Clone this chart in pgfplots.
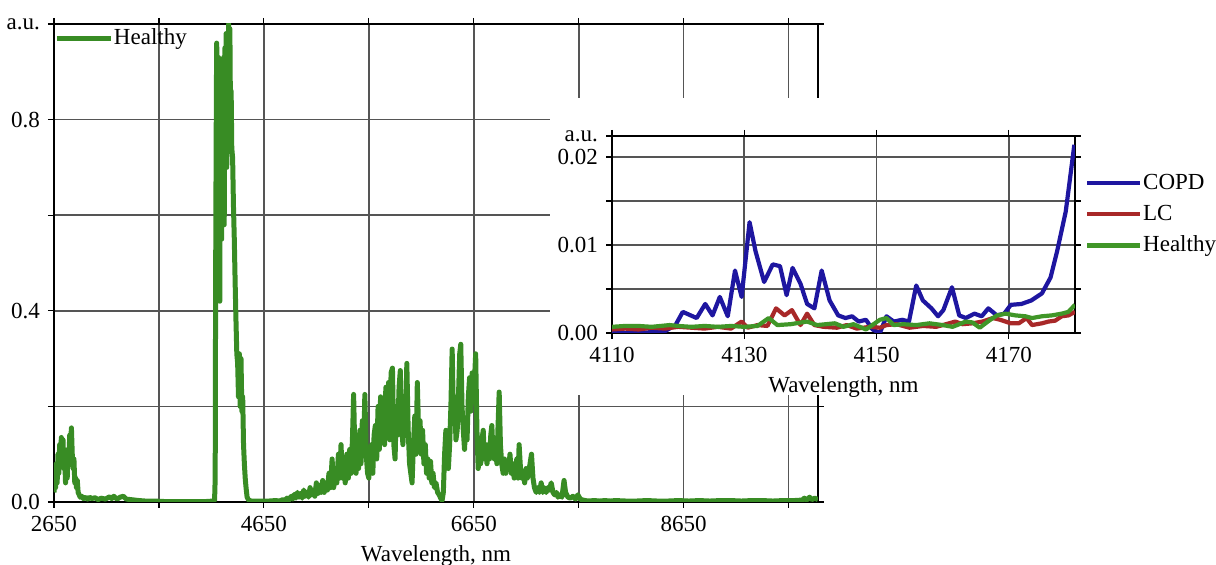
\documentclass[border=0pt]{standalone}
\usepackage{fontspec}
\setmainfont{Liberation Serif}
\usepackage{pgfplots}
\pgfplotsset{compat=1.18}

\definecolor{healthy}{RGB}{56,140,36}
\definecolor{healthyin}{RGB}{64,150,40}
\definecolor{copd}{RGB}{30,22,160}
\definecolor{lc}{RGB}{168,40,40}
\definecolor{gridgray}{RGB}{85,85,85}

\pgfplotsset{
  specstyle/.style={
    scale only axis,
    grid=major,
    grid style={gridgray, line width=0.8pt},
    tick align=outside,
    major tick length=3pt,
    tick style={black, line width=0.6pt},
    axis line style={black, line width=0.6pt},
    scaled x ticks=false, scaled y ticks=false,
    legend cell align=left,
  },
}

\begin{document}
\fontsize{11.5}{13.5}\selectfont
\begin{tikzpicture}
\path[use as bounding box] (-27pt,-31.5pt) rectangle (581pt,251pt);

% full spectrum
\begin{axis}[
  specstyle,
  at={(0,0)}, anchor=south west,
  width=382pt, height=239pt,
  xmin=2650, xmax=9930, ymin=0, ymax=1,
  xtick={2650,3650,4650,5650,6650,7650,8650,9650},
  xticklabels={2650,,4650,,6650,,8650,},
  ytick={0,0.2,0.4,0.6,0.8,1},
  yticklabels={0.0,,0.4,,0.8,a.u.},
  xlabel={Wavelength, nm},
  xlabel style={yshift=1pt},
  legend style={at={(0,1)}, anchor=north west, yshift=-2pt, draw=none, fill=none,
    inner sep=0pt, nodes={inner sep=0.3pt}},
  legend image code/.code={\draw[#1] (0pt,0pt) -- (27pt,0pt);},
]
\addplot[color=healthy, line width=2.5pt, line join=round] coordinates {
(2650,0.02)(2658,0.05)(2665,0.03)(2672,0.08)(2680,0.04)(2688,0.10)(2696,0.06)(2704,0.12)
(2712,0.09)(2720,0.135)(2728,0.10)(2736,0.13)(2744,0.07)(2752,0.09)(2760,0.04)(2768,0.08)
(2776,0.05)(2784,0.11)(2792,0.09)(2800,0.14)(2808,0.12)(2816,0.155)(2824,0.10)(2832,0.07)
(2840,0.09)(2848,0.04)(2856,0.05)(2864,0.03)(2872,0.045)(2880,0.02)(2890,0.015)(2900,0.01)
(2915,0.012)(2930,0.007)(2950,0.01)(2970,0.006)(2990,0.01)(3010,0.007)(3040,0.009)(3070,0.005)
(3100,0.008)(3140,0.006)(3180,0.011)(3200,0.007)(3220,0.012)(3250,0.006)(3280,0.01)(3310,0.012)
(3340,0.006)(3380,0.005)(3420,0.004)(3460,0.003)(3520,0.002)(3600,0.002)(3700,0.001)(3800,0.001)
(3900,0.001)(4000,0.001)(4100,0.001)(4170,0.002)(4180,0.003)(4186,0.05)(4190,0.45)(4195,0.75)
(4200,0.96)(4206,0.90)(4212,0.45)(4218,0.93)(4224,0.82)(4230,0.42)(4236,0.88)(4242,0.90)
(4248,0.55)(4254,0.89)(4260,0.65)(4266,0.93)(4272,0.58)(4278,0.95)(4284,0.72)(4290,0.98)
(4296,0.70)(4302,0.96)(4308,0.78)(4314,1.0)(4320,0.85)(4326,0.99)(4332,0.80)(4338,0.86)
(4344,0.74)(4352,0.72)(4360,0.62)(4368,0.55)(4376,0.46)(4384,0.38)(4392,0.31)(4400,0.29)
(4408,0.22)(4416,0.31)(4424,0.20)(4432,0.30)(4440,0.19)(4448,0.22)(4456,0.12)(4464,0.08)
(4472,0.05)(4480,0.03)(4490,0.01)(4505,0.004)(4530,0.002)(4600,0.002)(4700,0.002)(4760,0.003)
(4800,0.002)(4830,0.005)(4850,0.003)(4870,0.008)(4890,0.004)(4910,0.012)(4925,0.006)(4940,0.016)
(4955,0.008)(4970,0.02)(4985,0.01)(5000,0.018)(5015,0.008)(5030,0.025)(5045,0.012)(5060,0.02)
(5075,0.01)(5090,0.03)(5105,0.015)(5120,0.025)(5135,0.012)(5150,0.04)(5165,0.018)(5180,0.035)
(5195,0.02)(5210,0.045)(5225,0.02)(5240,0.04)(5255,0.025)(5270,0.06)(5285,0.03)(5300,0.09)
(5315,0.03)(5330,0.06)(5345,0.04)(5360,0.10)(5372,0.05)(5385,0.12)(5398,0.05)(5410,0.09)
(5425,0.04)(5440,0.10)(5455,0.05)(5468,0.11)(5482,0.06)(5495,0.14)(5505,0.225)(5515,0.12)
(5528,0.06)(5540,0.14)(5552,0.07)(5565,0.15)(5575,0.08)(5588,0.17)(5600,0.10)(5612,0.225)
(5625,0.10)(5638,0.06)(5650,0.05)(5662,0.09)(5675,0.12)(5688,0.06)(5700,0.14)(5712,0.16)
(5725,0.09)(5738,0.20)(5750,0.11)(5762,0.22)(5775,0.13)(5788,0.21)(5800,0.12)(5812,0.24)
(5825,0.15)(5838,0.25)(5850,0.13)(5862,0.27)(5875,0.28)(5888,0.12)(5900,0.09)(5912,0.20)
(5925,0.14)(5938,0.24)(5950,0.275)(5962,0.16)(5975,0.12)(5988,0.22)(6000,0.15)(6012,0.29)
(6025,0.15)(6038,0.08)(6050,0.06)(6062,0.04)(6075,0.12)(6088,0.18)(6100,0.10)(6112,0.25)
(6125,0.14)(6138,0.17)(6150,0.10)(6162,0.15)(6175,0.08)(6188,0.12)(6200,0.06)(6212,0.09)
(6225,0.05)(6238,0.085)(6250,0.04)(6262,0.06)(6275,0.03)(6290,0.04)(6305,0.02)(6320,0.015)
(6335,0.008)(6348,0.003)(6360,0.02)(6372,0.10)(6384,0.15)(6396,0.09)(6408,0.07)(6420,0.12)
(6432,0.20)(6444,0.32)(6456,0.18)(6468,0.22)(6480,0.13)(6492,0.15)(6504,0.22)(6516,0.31)
(6526,0.33)(6538,0.20)(6550,0.15)(6562,0.11)(6574,0.17)(6586,0.13)(6598,0.22)(6610,0.26)
(6622,0.19)(6634,0.27)(6646,0.22)(6658,0.26)(6668,0.31)(6680,0.15)(6692,0.07)(6704,0.10)
(6716,0.08)(6728,0.13)(6740,0.15)(6752,0.09)(6764,0.12)(6776,0.08)(6788,0.12)(6800,0.09)
(6812,0.14)(6822,0.16)(6834,0.10)(6846,0.09)(6858,0.12)(6870,0.08)(6880,0.15)(6892,0.23)
(6904,0.12)(6916,0.08)(6930,0.06)(6942,0.09)(6955,0.06)(6968,0.08)(6982,0.07)(6995,0.10)
(7008,0.06)(7020,0.08)(7035,0.05)(7048,0.07)(7060,0.09)(7072,0.05)(7082,0.12)(7095,0.07)
(7108,0.05)(7120,0.06)(7135,0.04)(7148,0.07)(7160,0.05)(7172,0.06)(7186,0.08)(7200,0.10)
(7214,0.05)(7228,0.03)(7245,0.02)(7260,0.03)(7275,0.02)(7292,0.04)(7308,0.02)(7322,0.03)
(7340,0.02)(7355,0.03)(7370,0.025)(7388,0.04)(7405,0.02)(7420,0.015)(7437,0.02)(7453,0.01)
(7470,0.015)(7490,0.01)(7510,0.045)(7525,0.02)(7548,0.01)(7570,0.008)(7595,0.012)(7620,0.006)
(7642,0.015)(7665,0.006)(7690,0.004)(7737,0.002)(7800,0.003)(7850,0.002)(7900,0.003)(7950,0.002)
(8000,0.003)(8100,0.002)(8200,0.002)(8300,0.003)(8400,0.002)(8500,0.002)(8600,0.003)(8700,0.002)
(8800,0.003)(8900,0.002)(9000,0.003)(9100,0.003)(9200,0.002)(9300,0.003)(9400,0.003)(9500,0.002)
(9600,0.003)(9700,0.003)(9780,0.004)(9800,0.008)(9820,0.004)(9850,0.01)(9870,0.005)(9900,0.008)
(9930,0.005)
};
\addlegendentry{Healthy}
\end{axis}

% white ground for the inset
\fill[white] (248pt,53.5pt) rectangle (392pt,202pt);

% zoomed inset
\begin{axis}[
  specstyle,
  at={(279pt,84.5pt)}, anchor=south west,
  width=231.5pt, height=98.5pt,
  xmin=4110, xmax=4180, ymin=0, ymax=0.0224,
  xtick={4110,4130,4150,4170},
  xticklabels={4110,4130,4150,4170},
  ytick={0,0.005,0.01,0.015,0.02},
  yticklabels={0.00,,0.01,,0.02},
  extra y ticks={0.0224}, extra y tick labels={a.u.},
  extra y tick style={grid=none},
  xlabel={Wavelength, nm},
  xlabel style={yshift=1pt},
  legend style={at={(1,1)}, anchor=north west, xshift=5pt, yshift=-18.5pt,
    draw=none, fill=none, inner sep=0pt, row sep=5.5pt, nodes={inner sep=0.3pt}},
  legend image code/.code={\draw[#1] (0pt,0pt) -- (26.5pt,0pt);},
]
\addplot[color=copd, line width=2.1pt, line join=round] coordinates {
(4110,0.0000)(4112,0.0000)(4114,0.0000)(4116,0.0001)(4118,0.0002)(4119.6,0.0009)(4120.7,0.0024)
(4122.8,0.0017)(4124.1,0.0033)(4125.2,0.0020)(4126.3,0.0041)(4127.5,0.0019)(4128.6,0.0071)
(4129.6,0.0041)(4130.8,0.0126)(4131.7,0.0093)(4133.0,0.0058)(4134.3,0.0078)(4135.4,0.0076)
(4136.4,0.0043)(4137.3,0.0074)(4138.5,0.0056)(4139.5,0.0033)(4140.6,0.0028)(4141.7,0.0071)
(4142.9,0.0037)(4144.2,0.0020)(4145.3,0.0017)(4146.3,0.0019)(4147.3,0.0013)(4148.4,0.0015)
(4149.4,0.0004)(4150.5,0.0000)(4151.5,0.0019)(4152.6,0.0013)(4153.9,0.0015)(4154.9,0.0013)
(4156.0,0.0054)(4157.0,0.0037)(4158.3,0.0028)(4159.3,0.0019)(4160.1,0.0026)(4161.4,0.0052)
(4162.5,0.0020)(4163.5,0.0017)(4164.8,0.0022)(4165.9,0.0019)(4166.9,0.0028)(4168.2,0.0020)
(4169.3,0.0022)(4170.3,0.0032)(4171.9,0.0033)(4173.4,0.0037)(4175.0,0.0045)(4176.3,0.0063)
(4177.3,0.0093)(4178.6,0.0138)(4179.1,0.0167)(4179.9,0.0214)
};
\addlegendentry{COPD}
\addplot[color=lc, line width=2.1pt, line join=round] coordinates {
(4110,0.0004)(4112,0.0005)(4114,0.0004)(4116,0.0006)(4118,0.0005)(4120,0.0007)(4122,0.0006)
(4124,0.0005)(4126,0.0007)(4128,0.0005)(4129.6,0.0013)(4130.5,0.0006)(4132,0.0009)(4133.5,0.0008)
(4134.8,0.0028)(4136.1,0.0020)(4137.2,0.0026)(4138.5,0.0009)(4139.5,0.0022)(4140.6,0.0009)
(4142,0.0007)(4144,0.0006)(4145.5,0.0009)(4147,0.0005)(4149,0.0007)(4150.5,0.0006)(4151.5,0.0009)
(4153,0.0010)(4155,0.0006)(4157,0.0008)(4159,0.0007)(4160.5,0.0010)(4161.9,0.0013)(4163,0.0010)
(4164.5,0.0011)(4166,0.0013)(4167.6,0.0017)(4168.7,0.0015)(4170.3,0.0011)(4171.5,0.0011)
(4172.7,0.0017)(4173.5,0.0009)(4175,0.0011)(4176,0.0013)(4177,0.0014)(4178,0.0019)(4179,0.0020)
(4180,0.0024)
};
\addlegendentry{LC}
\addplot[color=healthyin, line width=2.1pt, line join=round] coordinates {
(4110,0.0007)(4112,0.0008)(4114,0.0008)(4116,0.0007)(4118.7,0.0009)(4120,0.0008)(4122,0.0007)
(4124,0.0008)(4126,0.0007)(4128,0.0008)(4130,0.0007)(4132,0.0008)(4133.7,0.0017)(4135,0.0009)
(4137,0.0010)(4139.5,0.0013)(4141,0.0009)(4143.7,0.0011)(4145,0.0007)(4146.5,0.0010)(4148.4,0.0004)
(4150.5,0.0015)(4151.5,0.0017)(4152.6,0.0009)(4154,0.0010)(4156,0.0009)(4158,0.0011)(4160,0.0009)
(4161.5,0.0007)(4163.5,0.0013)(4164.5,0.0012)(4165.6,0.0006)(4167,0.0014)(4168.2,0.0020)
(4169.5,0.0022)(4171,0.0020)(4172.5,0.0019)(4173.5,0.0017)(4175,0.0019)(4176.5,0.0020)
(4178,0.0022)(4179,0.0024)(4180,0.0032)
};
\addlegendentry{Healthy}
\end{axis}
\end{tikzpicture}
\end{document}
